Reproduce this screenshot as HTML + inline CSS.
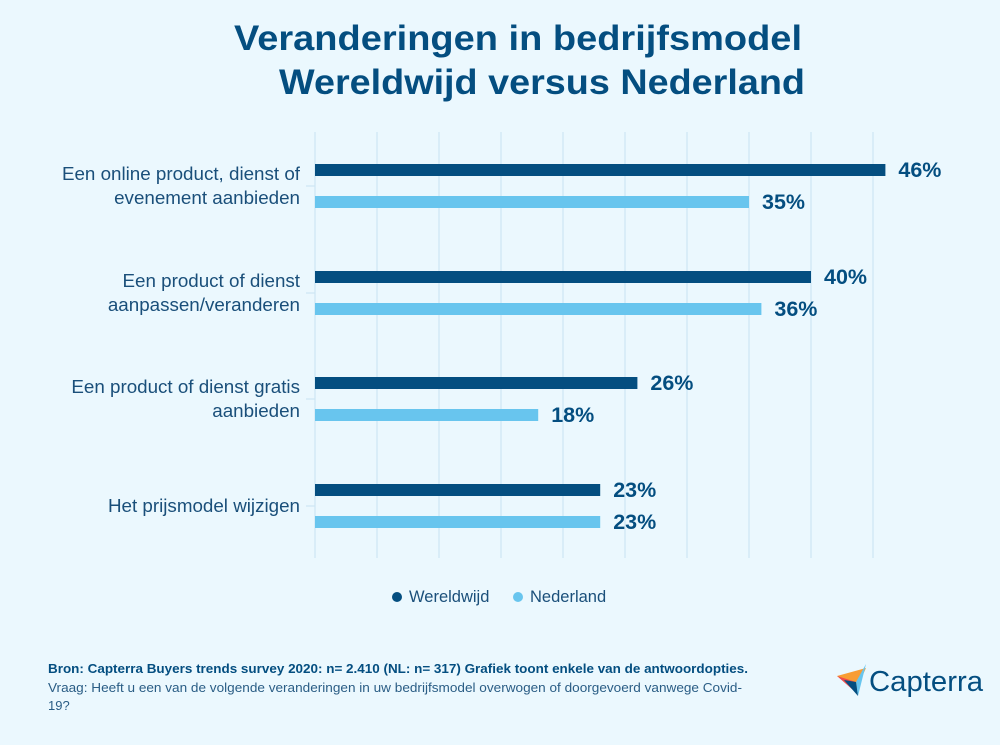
<!DOCTYPE html>
<html><head><meta charset="utf-8"><style>
body{margin:0;width:1000px;height:740px;background:#ebf8fe;font-family:"Liberation Sans",sans-serif;overflow:hidden}
</style></head><body>
<svg width="1000" height="740" id="svg" xmlns="http://www.w3.org/2000/svg">
<text x="234" y="50" textLength="568" lengthAdjust="spacingAndGlyphs" font-size="35" font-weight="bold" fill="#044e80">Veranderingen in bedrijfsmodel</text>
<text x="279" y="94" textLength="526" lengthAdjust="spacingAndGlyphs" font-size="35" font-weight="bold" fill="#044e80">Wereldwijd versus Nederland</text>
<g id="grid"></g><g id="bars"></g><g id="labels"></g>
<g>
<circle cx="397" cy="597" r="5" fill="#044e80"/>
<text x="409" y="602" font-size="16.5" fill="#1a4f7a">Wereldwijd</text>
<circle cx="518" cy="597" r="5" fill="#68c5ee"/>
<text x="530" y="602" font-size="16.5" fill="#1a4f7a">Nederland</text>
</g>
<text x="48" y="673" textLength="700" lengthAdjust="spacingAndGlyphs" font-size="13" font-weight="bold" fill="#044e80">Bron: Capterra Buyers trends survey 2020: n= 2.410 (NL: n= 317) Grafiek toont enkele van de antwoordopties.</text>
<text x="48" y="692" textLength="694" lengthAdjust="spacingAndGlyphs" font-size="13" fill="#2a5d85">Vraag: Heeft u een van de volgende veranderingen in uw bedrijfsmodel overwogen of doorgevoerd vanwege Covid-</text>
<text x="48" y="710" font-size="13" fill="#2a5d85">19?</text>
<g>
<polygon points="837,676 866,668 856,690" fill="#f89d34"/>
<polygon points="837,676 856,682 853,690" fill="#ef4b4b"/>
<polygon points="866,664 856,682 858,696" fill="#68c5ee"/>
<polygon points="844,680 856,682 858,696" fill="#044e80"/>
<text x="869" y="691" textLength="114" lengthAdjust="spacingAndGlyphs" font-size="29" fill="#044e80">Capterra</text>
</g>
</svg>
<script>
const categories=[["Een online product, dienst of","evenement aanbieden"],["Een product of dienst","aanpassen/veranderen"],["Een product of dienst gratis","aanbieden"],["Het prijsmodel wijzigen"]];
const wereldwijd=[46,40,26,23];
const nederland=[35,36,18,23];
const ticks=[0,5,10,15,20,25,30,35,40,45];
const NS="http://www.w3.org/2000/svg";
const x=v=>315+v*12.4;
const groupY=i=>[170,277,383,490][i];
function mk(t,a,p){const e=document.createElementNS(NS,t);for(const k in a)e.setAttribute(k,a[k]);p.appendChild(e);return e;}
const g=document.getElementById('grid'),b=document.getElementById('bars'),l=document.getElementById('labels');
ticks.forEach(t=>{const e=mk('line',{x1:x(t),x2:x(t),y1:132,y2:558,stroke:'#cde6f3','stroke-width':1.2},g);

});
categories.forEach((c,i)=>{const ty=groupY(i)+16;const e=mk('line',{x1:306,x2:315,y1:ty,y2:ty,stroke:'#cde6f3','stroke-width':1.2},g);

});
categories.forEach((c,i)=>{const cy=groupY(i);
const b1=mk('rect',{x:315,y:cy-6,width:x(wereldwijd[i])-315,height:12,fill:'#044e80'},b);


const b2=mk('rect',{x:315,y:cy+26,width:x(nederland[i])-315,height:12,fill:'#68c5ee'},b);


const t1=mk('text',{x:x(wereldwijd[i])+13,y:cy+7,'font-size':21.5,'font-weight':'bold',fill:'#044e80'},l);t1.textContent=wereldwijd[i]+'%';


const t2=mk('text',{x:x(nederland[i])+13,y:cy+39,'font-size':21.5,'font-weight':'bold',fill:'#044e80'},l);t2.textContent=nederland[i]+'%';


const mid=cy+16, n=c.length;
c.forEach((line,j)=>{const t=mk('text',{x:300,y:mid+6+(j-(n-1)/2)*24,'text-anchor':'end','font-size':18.8,fill:'#1a4f7a'},l);t.textContent=line;

});
});
</script>
</body></html>
